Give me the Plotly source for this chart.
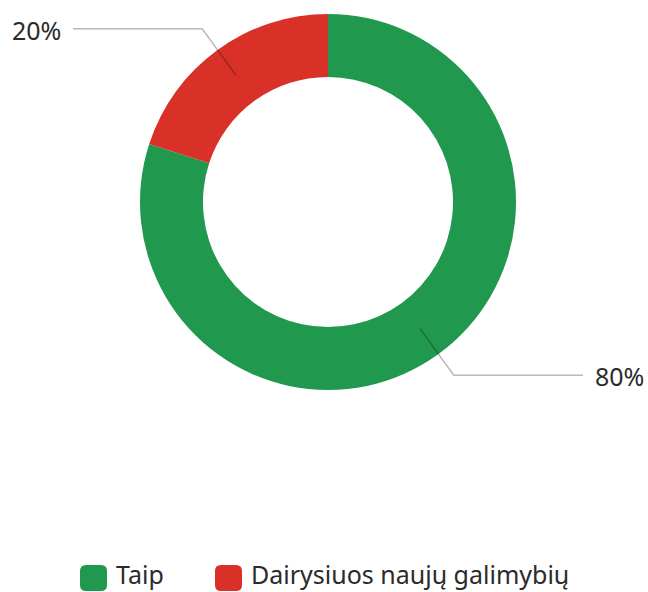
import math
import plotly.graph_objects as go

labels = ["Taip", "Dairysiuos naujų galimybių"]
values = [80, 20]
colors = ["#20994f", "#d93127"]

W, H = 648, 592
CX, CY = 328, 202          # pie centre (px)
R_OUT = 188                # outer radius (px)
HOLE = 0.665
FONT = "Noto Sans, Open Sans, sans-serif"
TXT = "#2b2b2b"
FS = 25

def px(x):
    return x / W

def py(y):
    return 1 - y / H

fig = go.Figure(go.Pie(
    labels=labels, values=values, hole=HOLE, sort=False,
    direction="clockwise", rotation=0,
    marker=dict(colors=colors, line=dict(width=0)),
    textinfo="none", hoverinfo="label+percent", showlegend=False,
    domain=dict(x=[px(CX - R_OUT), px(CX + R_OUT)],
                y=[py(CY + R_OUT), py(CY - R_OUT)]),
))

shapes = []
annotations = []
total = sum(values)
r_mid = R_OUT * (1 + HOLE) / 2
r_elbow = R_OUT + 26
h_len = 255
cum = 0
for lab, v in zip(labels, values):
    mid = (cum + v / 2) / total * 2 * math.pi
    cum += v
    sx, sy = CX + r_mid * math.sin(mid), CY - r_mid * math.cos(mid)
    ex, ey = CX + r_elbow * math.sin(mid), CY - r_elbow * math.cos(mid)
    side = 1 if math.sin(mid) >= 0 else -1
    hx = CX + side * h_len
    path = f"M{px(sx)},{py(sy)} L{px(ex)},{py(ey)} L{px(hx)},{py(ey)}"
    shapes.append(dict(type="path", path=path, xref="paper", yref="paper",
                       line=dict(color="rgba(0,0,0,0.28)", width=1.5),
                       layer="above"))
    pct = f"{round(v / total * 100)}%"
    annotations.append(dict(
        text=pct, x=px(hx + side * 10), y=py(ey + 1), xref="paper", yref="paper",
        xanchor="left" if side > 0 else "right", yanchor="middle",
        showarrow=False, font=dict(family=FONT, size=FS, color=TXT)))

# legend (manual, rounded square markers)
def rounded(x0, y0, x1, y1, r):
    p = [
        f"M{px(x0 + r)},{py(y0)}",
        f"L{px(x1 - r)},{py(y0)}",
        f"Q{px(x1)},{py(y0)} {px(x1)},{py(y0 + r)}",
        f"L{px(x1)},{py(y1 - r)}",
        f"Q{px(x1)},{py(y1)} {px(x1 - r)},{py(y1)}",
        f"L{px(x0 + r)},{py(y1)}",
        f"Q{px(x0)},{py(y1)} {px(x0)},{py(y1 - r)}",
        f"L{px(x0)},{py(y0 + r)}",
        f"Q{px(x0)},{py(y0)} {px(x0 + r)},{py(y0)} Z",
    ]
    return " ".join(p)

leg_x = [80, 215]
leg_y0, leg_y1 = 565, 591
for lx, lab, col in zip(leg_x, labels, colors):
    shapes.append(dict(type="path", path=rounded(lx, leg_y0, lx + 27, leg_y1, 6),
                       xref="paper", yref="paper", fillcolor=col,
                       line=dict(width=0)))
    annotations.append(dict(
        text=lab, x=px(lx + 35), y=0, borderpad=0,
        xref="paper", yref="paper", xanchor="left", yanchor="bottom",
        showarrow=False, font=dict(family=FONT, size=FS, color=TXT)))

fig.update_layout(
    width=W, height=H, autosize=False,
    margin=dict(l=0, r=0, t=0, b=0),
    paper_bgcolor="white", plot_bgcolor="white",
    shapes=shapes, annotations=annotations,
)

fig.write_html("out.html", config={"displayModeBar": False},
               post_script="document.body.style.margin='0';"
                           "document.body.style.overflow='hidden';")
